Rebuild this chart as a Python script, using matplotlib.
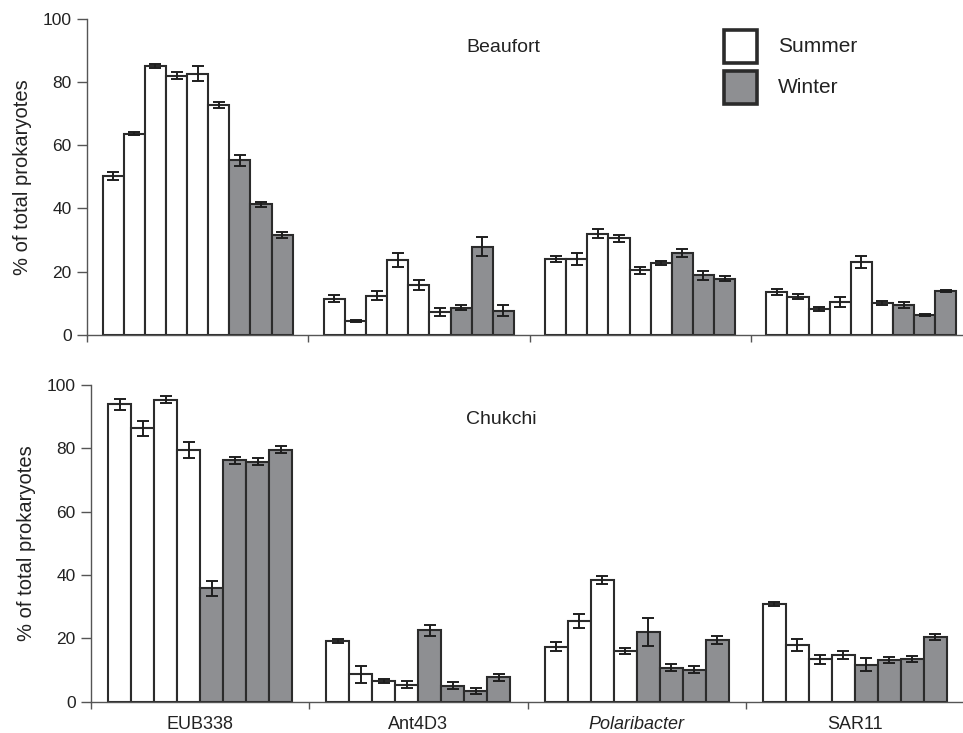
import matplotlib
matplotlib.use("Agg")
import matplotlib.pyplot as plt
from matplotlib.patches import Rectangle
import numpy as np

plt.rcParams['font.family'] = ['Liberation Sans', 'DejaVu Sans']

probes = ["EUB338", "Ant4D3", "Polaribacter", "SAR11"]

# Beaufort: 6 summer stations followed by 3 winter stations per probe
beaufort_season = ["S", "S", "S", "S", "S", "S", "W", "W", "W"]
beaufort_mean = [
    [50.3, 63.6, 85.1, 82.1, 82.7, 72.7, 55.2, 41.3, 31.6],
    [11.4, 4.3, 12.4, 23.8, 15.7, 7.2, 8.6, 27.9, 7.6],
    [23.9, 24.0, 32.0, 30.5, 20.4, 22.6, 25.9, 18.8, 17.8],
    [13.6, 12.1, 8.2, 10.3, 23.0, 10.1, 9.5, 6.3, 13.9],
]
beaufort_err = [
    [1.3, 0.5, 0.7, 1.1, 2.3, 1.0, 1.8, 0.8, 1.0],
    [1.2, 0.4, 1.5, 2.2, 1.5, 1.2, 0.7, 3.0, 1.8],
    [0.9, 1.8, 1.5, 1.0, 1.2, 0.6, 1.4, 1.5, 0.7],
    [1.0, 0.7, 0.6, 1.5, 1.9, 0.7, 0.9, 0.3, 0.4],
]

# Chukchi: 4 summer stations followed by 4 winter stations per probe
chukchi_season = ["S", "S", "S", "S", "W", "W", "W", "W"]
chukchi_mean = [
    [93.8, 86.2, 95.2, 79.4, 35.8, 76.1, 75.7, 79.5],
    [19.2, 8.6, 6.6, 5.4, 22.5, 5.0, 3.4, 7.7],
    [17.4, 25.4, 38.5, 15.9, 22.0, 10.7, 10.1, 19.5],
    [30.9, 17.9, 13.4, 14.7, 11.7, 13.2, 13.4, 20.4],
]
chukchi_err = [
    [1.7, 2.5, 1.1, 2.5, 2.4, 1.0, 1.1, 1.1],
    [0.7, 2.8, 0.7, 1.0, 1.8, 1.1, 1.0, 1.1],
    [1.5, 2.2, 1.3, 0.9, 4.4, 1.1, 1.1, 1.2],
    [0.6, 1.8, 1.4, 1.2, 2.1, 1.0, 1.0, 1.0],
]

y_ticks = [0, 20, 40, 60, 80, 100]
season_colors = {"S": "#ffffff", "W": "#8e8f92"}
edge = "#2b2b2b"
spine_col = "#555555"

W, H = 963, 733
fig = plt.figure(figsize=(W / 100, H / 100), dpi=100)

def px_axes(left, right, bottom, top):
    return fig.add_axes([left / W, (H - bottom) / H, (right - left) / W, (bottom - top) / H])

ax_top = px_axes(87, 972, 334.7, 19)
ax_bot = px_axes(91, 964, 701.7, 384.7)


def draw_panel(ax, means, errs, seasons, bar_w, title, title_y, show_labels):
    n = len(seasons)
    for g, (m, e) in enumerate(zip(means, errs)):
        x = g + 0.5 + (np.arange(n) - (n - 1) / 2) * bar_w
        ax.bar(x, m, width=bar_w, color=[season_colors[s] for s in seasons],
               edgecolor=edge, linewidth=1.5, zorder=2)
        ax.errorbar(x, m, yerr=e, fmt="none", ecolor="#1e1e1e", elinewidth=1.4,
                    capsize=4, capthick=1.4, zorder=3)
    ax.set_xlim(0, 4)
    ax.set_ylim(0, 100)
    ax.set_yticks(y_ticks)
    ax.tick_params(axis="y", direction="out", length=7, width=1, color=spine_col,
                   labelsize=12.5, labelcolor="#222222", pad=4)
    ax.set_xticks([0.5, 1.5, 2.5, 3.5])
    ax.set_xticks([0, 1, 2, 3, 4], minor=True)
    ax.tick_params(axis="x", which="major", length=0, pad=10,
                   labelsize=13, labelcolor="#222222")
    ax.tick_params(axis="x", which="minor", direction="out", length=5, width=1,
                   color=spine_col)
    if show_labels:
        labels = ax.set_xticklabels(probes)
        labels[2].set_fontstyle("italic")
    else:
        ax.set_xticklabels([])
    for side in ("top", "right"):
        ax.spines[side].set_visible(False)
    for side in ("left", "bottom"):
        ax.spines[side].set_color(spine_col)
        ax.spines[side].set_linewidth(1.0)
    ax.spines["bottom"].set_zorder(4)
    ax.set_ylabel("% of total prokaryotes", fontsize=14.5, color="#222222", labelpad=8)
    ax.text(1.88, title_y, title, fontsize=14, color="#222222", ha="center", va="center")


draw_panel(ax_top, beaufort_mean, beaufort_err, beaufort_season, 0.0954,
           "Beaufort", 91, False)
draw_panel(ax_bot, chukchi_mean, chukchi_err, chukchi_season, 0.1054,
           "Chukchi", 89, True)

# Season key
for (label, key), ytop in zip([("Summer", "S"), ("Winter", "W")], [30, 71]):
    fig.patches.append(Rectangle((724 / W, (H - ytop - 33) / H), 33 / W, 33 / H,
                                 transform=fig.transFigure, facecolor=season_colors[key],
                                 edgecolor=edge, linewidth=2.6))
    fig.text(778 / W, (H - ytop - 16.5) / H, label, fontsize=15, color="#222222",
             ha="left", va="center")

fig.savefig("out.png", dpi=100)
